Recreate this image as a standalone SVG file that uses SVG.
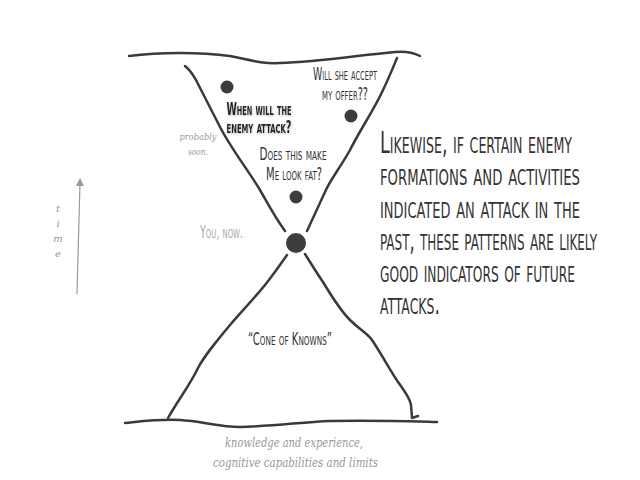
<svg xmlns="http://www.w3.org/2000/svg" width="640" height="480" viewBox="0 0 640 480">
<defs>
<style>
.ln{fill:none;stroke:#3a3a3a;stroke-width:2.5;stroke-linecap:round;stroke-linejoin:round}
.dot{fill:#3d3d3d}
.cap{font-family:"DejaVu Sans Condensed","Liberation Sans Narrow","DejaVu Sans",sans-serif;font-variant:small-caps;fill:#333}
.big{font-size:30px}
.sm{font-size:17px}
.bold{font-weight:bold;fill:#222}
.grey{fill:#aaa}
.scr{font-family:"DejaVu Serif","Liberation Serif",serif;font-style:italic;fill:#999}
</style>
<marker id="ah" markerWidth="8" markerHeight="8" refX="4" refY="4" orient="auto" markerUnits="userSpaceOnUse">
<path d="M0,0 L8,4 L0,8 Z" fill="#999"/>
</marker>
<filter id="sh" x="-10%" y="-30%" width="120%" height="160%">
<feDropShadow dx="0.5" dy="1" stdDeviation="1" flood-color="#888" flood-opacity="0.6"/>
</filter>
</defs>
<rect width="640" height="480" fill="#fff"/>
<g id="connectors">
<path class="ln" d="M129,56 C160,52 200,52 230,56 C250,60 262,64 280,63 C320,62 360,55 395,52 C405,51 412,52 420,56"/>
<path class="ln" d="M185,66 Q191,71 196,80 L220,127 C232,150 248,170 260,190 C267,202 274,216 285,231"/>
<path class="ln" d="M397,58 C392,70 388,80 383,90 C375,108 360,130 350,150 C340,168 330,180 325,192 C318,207 312,220 307,231"/>
<path class="ln" d="M287,255 C280,265 273,275 265,285 C252,301 240,313 230,325 C215,343 205,355 198,368 C190,385 178,400 168,418"/>
<path class="ln" d="M305,254 C312,265 318,275 323,282 C332,297 340,310 350,320 C360,330 367,333 372,340 C382,355 390,370 398,382 C405,392 410,398 411,405 L412,418 L418,416"/>
<path class="ln" d="M125,423 C145,421 160,419 180,420 C200,421 220,427 240,427 C280,426 300,422 330,421 C370,420 400,421 437,422"/>
<path d="M77,294 L80,182" stroke="#999" stroke-width="1.2" fill="none" marker-end="url(#ah)"/>
</g>
<g id="dot-enemy"><circle class="dot" cx="227" cy="87" r="6.5"/></g>
<g id="dot-offer"><circle class="dot" cx="351" cy="116" r="6.5"/></g>
<g id="dot-fat"><circle class="dot" cx="296" cy="197" r="6.5"/></g>
<g id="dot-now"><circle class="dot" cx="296" cy="243" r="10"/></g>
<g id="label-offer">
<text class="cap sm" x="345" y="80" text-anchor="middle" textLength="64" lengthAdjust="spacingAndGlyphs">Will she accept</text>
<text class="cap sm" x="345" y="100" text-anchor="middle" textLength="46" lengthAdjust="spacingAndGlyphs">my offer??</text>
</g>
<g id="label-enemy" filter="url(#sh)">
<text class="cap sm bold" x="259" y="115" text-anchor="middle" textLength="65" lengthAdjust="spacingAndGlyphs">When will the</text>
<text class="cap sm bold" x="259" y="133" text-anchor="middle" textLength="65" lengthAdjust="spacingAndGlyphs">enemy attack?</text>
</g>
<g id="label-soon">
<text class="scr" font-size="10" x="198" y="140" text-anchor="middle" textLength="37" lengthAdjust="spacingAndGlyphs">probably</text>
<text class="scr" font-size="10" x="198" y="155" text-anchor="middle" textLength="20" lengthAdjust="spacingAndGlyphs">soon.</text>
</g>
<g id="label-fat">
<text class="cap sm" x="293" y="160" text-anchor="middle" textLength="67" lengthAdjust="spacingAndGlyphs">Does this make</text>
<text class="cap sm" x="294" y="180" text-anchor="middle" textLength="56" lengthAdjust="spacingAndGlyphs">Me look fat?</text>
</g>
<g id="label-now">
<text class="cap grey" font-size="18" x="200" y="238" textLength="43" lengthAdjust="spacingAndGlyphs">You, now.</text>
</g>
<g id="label-cone">
<text class="cap" font-size="18" x="248" y="345" textLength="84" lengthAdjust="spacingAndGlyphs">“Cone of Knowns”</text>
</g>
<g id="label-time">
<text class="scr" font-size="10" x="58" y="212" text-anchor="middle" fill="#aaa">t</text>
<text class="scr" font-size="10" x="58" y="227" text-anchor="middle" fill="#aaa">i</text>
<text class="scr" font-size="10" x="58" y="242" text-anchor="middle" fill="#aaa">m</text>
<text class="scr" font-size="10" x="58" y="257" text-anchor="middle" fill="#aaa">e</text>
</g>
<g id="paragraph" transform="translate(380,0) scale(0.5,1)">
<text class="cap big" x="0" y="153" textLength="384" lengthAdjust="spacingAndGlyphs">Likewise, if certain enemy</text>
<text class="cap big" x="0" y="185" textLength="400" lengthAdjust="spacingAndGlyphs">formations and activities</text>
<text class="cap big" x="0" y="218" textLength="400" lengthAdjust="spacingAndGlyphs">indicated an attack in the</text>
<text class="cap big" x="0" y="250" textLength="434" lengthAdjust="spacingAndGlyphs">past, these patterns are likely</text>
<text class="cap big" x="0" y="282" textLength="390" lengthAdjust="spacingAndGlyphs">good indicators of future</text>
<text class="cap big" x="0" y="314" textLength="120" lengthAdjust="spacingAndGlyphs">attacks.</text>
</g>
<g id="label-bottom">
<text class="scr" font-size="13" x="225" y="447" textLength="138" lengthAdjust="spacingAndGlyphs">knowledge and experience,</text>
<text class="scr" font-size="13" x="213" y="467" textLength="165" lengthAdjust="spacingAndGlyphs">cognitive capabilities and limits</text>
</g>
</svg>
